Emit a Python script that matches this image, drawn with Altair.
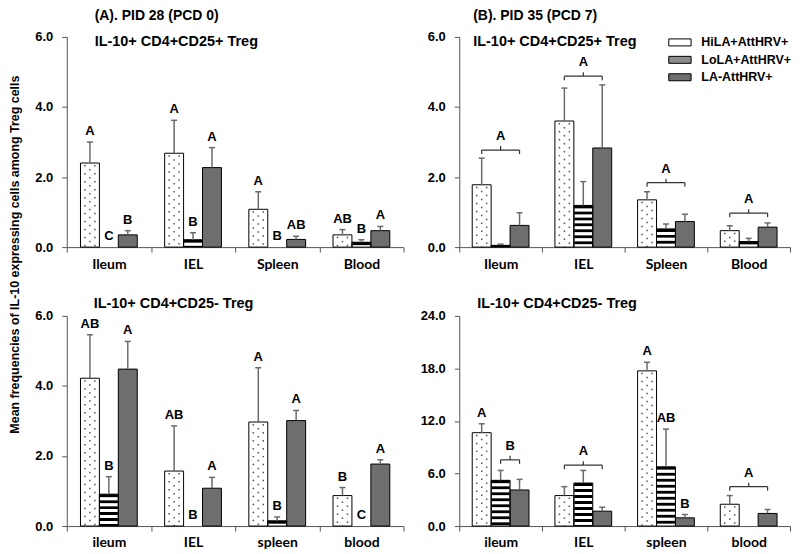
import json
import altair as alt
import pandas as pd

GROUPS = ["HiLA+AttHRV+", "LoLA+AttHRV+", "LA-AttHRV+"]
CATS_TOP = ["Ileum", "IEL", "Spleen", "Blood"]
CATS_BOTTOM = ["ileum", "IEL", "spleen", "blood"]

# (A) PID 28 - IL-10+ CD4+CD25+ Treg   rows: categories, cols: groups
A1_MEAN = [[2.40, 0.00, 0.35], [2.68, 0.21, 2.27], [1.08, 0.00, 0.22], [0.35, 0.14, 0.47]]
A1_SE = [[0.60, 0.00, 0.12], [0.94, 0.20, 0.57], [0.50, 0.00, 0.09], [0.15, 0.07, 0.12]]
A1_LETTERS = [["A", "C", "B"], ["A", "B", "A"], ["A", "B", "AB"], ["AB", "B", "A"]]
A1_BRACKETS = []

# (B) PID 35 - IL-10+ CD4+CD25+ Treg
B1_MEAN = [[1.78, 0.05, 0.62], [3.60, 1.19, 2.83], [1.35, 0.52, 0.73], [0.47, 0.16, 0.57]]
B1_SE = [[0.76, 0.035, 0.36], [0.94, 0.68, 1.80], [0.23, 0.14, 0.21], [0.14, 0.09, 0.12]]
B1_LETTERS = [["", "", ""], ["", "", ""], ["", "", ""], ["", "", ""]]
# (category, first group, last group, letter, bracket level)
B1_BRACKETS = [(0, 0, 2, "A", 2.77), (1, 0, 2, "A", 4.88), (2, 0, 2, "A", 1.84), (3, 0, 2, "A", 0.97)]

# (A) PID 28 - IL-10+ CD4+CD25- Treg
A2_MEAN = [[4.22, 0.91, 4.48], [1.57, 0.00, 1.08], [2.97, 0.15, 3.01], [0.87, 0.00, 1.77]]
A2_SE = [[1.24, 0.50, 0.79], [1.29, 0.00, 0.31], [1.55, 0.11, 0.29], [0.23, 0.00, 0.12]]
A2_LETTERS = [["AB", "B", "A"], ["AB", "B", "A"], ["A", "B", "A"], ["B", "C", "A"]]
A2_BRACKETS = []

# (B) PID 35 - IL-10+ CD4+CD25- Treg
B2_MEAN = [[10.66, 5.22, 4.12], [3.48, 4.91, 1.70], [17.72, 6.76, 0.94], [2.49, 0.00, 1.44]]
B2_SE = [[1.02, 1.13, 1.21], [1.02, 1.44, 0.45], [0.98, 4.31, 0.38], [0.99, 0.00, 0.45]]
B2_LETTERS = [["A", "", ""], ["", "", ""], ["A", "AB", "B"], ["", "", ""]]
B2_BRACKETS = [(0, 1, 2, "B", 7.56), (1, 0, 2, "A", 6.95), (3, 0, 2, "A", 4.50)]

FILL_RANGE = ["#ffffff", "#8c8c8c", "#6e6e6e"]
FONT = "Liberation Sans"
XFONT = "Lato"
BAR_PX = 19
AXIS_COLOR = "#555555"
ERR_COLOR = "#6b6b6b"
YTITLE = "Mean frequencies of IL-10 expressing cells among Treg cells"


def build(cats, mean, se, letters, brackets, ymax, yticks, width, height, title,
          legend=False, ytitle=False):
    unit = width / 4.0
    bw = BAR_PX / unit
    rows = []
    for i, c in enumerate(cats):
        for g, name in enumerate(GROUPS):
            cx = i + 0.5 + (g - 1) * bw
            m = mean[i][g]
            s = se[i][g]
            rows.append({"cat": c, "group": name, "cx": cx, "x0": cx - bw / 2,
                         "x1": cx + bw / 2, "mean": m, "top": m + s, "se": s,
                         "zero": 0.0, "letter": letters[i][g]})
    bars = pd.DataFrame(rows)

    d = ymax * 4.0 / height
    segs, labs = [], []
    for (i, g0, g1, lab, yb) in brackets:
        xs = i + 0.5 + (g0 - 1) * bw
        xe = i + 0.5 + (g1 - 1) * bw
        xm = (xs + xe) / 2
        segs += [dict(x=xs, x2=xs, y=yb - d, y2=yb), dict(x=xe, x2=xe, y=yb - d, y2=yb),
                 dict(x=xs, x2=xe, y=yb, y2=yb), dict(x=xm, x2=xm, y=yb, y2=yb + d)]
        labs.append(dict(x=xm, y=yb + d, label=lab))

    xscale = alt.Scale(domain=[0, 4], nice=False, zero=False)
    xaxis = alt.Axis(
        title=None, values=[k / 2 for k in range(9)],
        labelExpr="datum.value % 1 == 0.5 ? " + json.dumps(cats) + "[floor(datum.value)] : ''",
        tickOpacity={"condition": {"test": "datum.value % 1 != 0", "value": 0}, "value": 1},
        labelOverlap=False, labelFlush=False, tickSize=5, labelPadding=5,
        labelFont=XFONT, labelFontSize=14, labelFontWeight="bold", grid=False)
    yscale = alt.Scale(domain=[0, ymax], nice=False, zero=True)
    ykw = dict(values=yticks, format=".1f", tickSize=5, labelPadding=9, grid=False)
    if ytitle:
        yaxis = alt.Axis(title=YTITLE, titleX=-45, titleY=218, titleFont=FONT,
                         titleFontSize=12.5, titleFontWeight="bold", titleColor="black",
                         titleAlign="center", titleBaseline="bottom", titleAngle=270, **ykw)
    else:
        yaxis = alt.Axis(title=None, **ykw)

    def X(f):
        return alt.X(f, type="quantitative", scale=xscale, axis=xaxis)

    def Y(f):
        return alt.Y(f, type="quantitative", scale=yscale, axis=yaxis)

    if legend:
        leg = alt.Legend(title=None, orient="none", legendX=214, legendY=-2,
                         symbolType="M-1.6,-0.5L1.6,-0.5L1.6,0.5L-1.6,0.5Z", symbolSize=196,
                         symbolStrokeColor="black", symbolStrokeWidth=1,
                         labelFont=FONT, labelFontWeight="bold", labelFontSize=12.5,
                         labelColor="black", labelOffset=14, rowPadding=3.5)
    else:
        leg = None

    base = alt.Chart(bars)
    layers = []
    layers.append(base.mark_rect(strokeWidth=0).encode(
        x=X("x0"), x2="x1", y=Y("mean"), y2="zero",
        fill=alt.Fill("group:N", scale=alt.Scale(domain=GROUPS, range=FILL_RANGE), legend=leg)))

    hi = base.transform_filter(alt.datum.group == GROUPS[0]).transform_filter(alt.datum.mean > 0)
    for dx, off in [(-5, -2), (0, -6), (5, -2)]:
        layers.append(hi.mark_rule(color="#555555", strokeWidth=1.5, strokeDash=[1.5, 6.5],
                                   strokeDashOffset=off, xOffset=dx).encode(
            x=X("cx"), y=Y("mean"), y2="zero"))

    lo = base.transform_filter(alt.datum.group == GROUPS[1]).transform_filter(alt.datum.mean > 0)
    layers.append(lo.mark_rule(color="black", strokeWidth=BAR_PX - 1, strokeDash=[3, 3]).encode(
        x=X("cx"), y=Y("mean"), y2="zero"))
    layers.append(lo.mark_rule(color="white", strokeWidth=BAR_PX - 1, strokeDash=[3, 3],
                               strokeDashOffset=3).encode(x=X("cx"), y=Y("mean"), y2="zero"))

    layers.append(base.transform_filter(alt.datum.mean > 0).mark_rect(
        fillOpacity=0, stroke="black", strokeWidth=1).encode(
        x=X("x0"), x2="x1", y=Y("mean"), y2="zero"))

    eb = base.transform_filter(alt.datum.se > 0)
    layers.append(eb.mark_rule(color=ERR_COLOR, strokeWidth=1.5).encode(
        x=X("cx"), y=Y("mean"), y2="top"))
    layers.append(eb.mark_rule(color=ERR_COLOR, strokeWidth=1.5, xOffset=-3, x2Offset=3).encode(
        x=X("cx"), x2="cx", y=Y("top")))

    layers.append(base.transform_filter(alt.datum.letter != "").mark_text(
        dy=-4, baseline="bottom", font=FONT, fontWeight="bold", fontSize=13, color="black").encode(
        x=X("cx"), y=Y("top"), text="letter"))

    if segs:
        layers.append(alt.Chart(pd.DataFrame(segs)).mark_rule(color="#333333", strokeWidth=1.2).encode(
            x=X("x"), x2="x2", y=Y("y"), y2="y2"))
        layers.append(alt.Chart(pd.DataFrame(labs)).mark_text(
            dy=-3, baseline="bottom", font=FONT, fontWeight="bold", fontSize=13, color="black").encode(
            x=X("x"), y=Y("y"), text="label"))

    return alt.layer(*layers).properties(width=width, height=height, title=title)


def top_title(main, sub, dx):
    return alt.TitleParams(text=main, subtitle=sub, anchor="start", frame="group", dx=dx,
                           font=FONT, fontSize=14, fontWeight="bold", color="black",
                           subtitleFont=FONT, subtitleFontSize=14.5, subtitleFontWeight="bold",
                           subtitleColor="black", subtitlePadding=12, offset=-18)


def bottom_title(text, dx):
    return alt.TitleParams(text=text, anchor="start", frame="group", dx=dx, font=FONT,
                           fontSize=14.5, fontWeight="bold", color="black", offset=-2)


H = 211
a1 = build(CATS_TOP, A1_MEAN, A1_SE, A1_LETTERS, A1_BRACKETS, 6, [0, 2, 4, 6], 338, H,
           top_title("(A). PID 28 (PCD 0)", "IL-10+ CD4+CD25+ Treg", 28), ytitle=True)
b1 = build(CATS_TOP, B1_MEAN, B1_SE, B1_LETTERS, B1_BRACKETS, 6, [0, 2, 4, 6], 332, H,
           top_title("(B). PID 35 (PCD 7)", "IL-10+ CD4+CD25+ Treg", 14), legend=True)
a2 = build(CATS_BOTTOM, A2_MEAN, A2_SE, A2_LETTERS, A2_BRACKETS, 6, [0, 2, 4, 6], 338, H,
           bottom_title("IL-10+ CD4+CD25- Treg", 27))
b2 = build(CATS_BOTTOM, B2_MEAN, B2_SE, B2_LETTERS, B2_BRACKETS, 24, [0, 6, 12, 18, 24], 332, H,
           bottom_title("IL-10+ CD4+CD25- Treg", 18))

chart = alt.concat(a1, b1, a2, b2, columns=2, bounds="flush",
                   spacing={"row": 69, "column": 56}).resolve_scale(
    fill="independent").properties(padding=0).configure_view(stroke=None).configure_axis(
    domainColor=AXIS_COLOR, tickColor=AXIS_COLOR, domainWidth=1, tickWidth=1,
    labelColor="black", labelFont=FONT, labelFontWeight="bold", labelFontSize=13, grid=False)

chart.save("out.html", embed_options={"renderer": "svg", "actions": False})
